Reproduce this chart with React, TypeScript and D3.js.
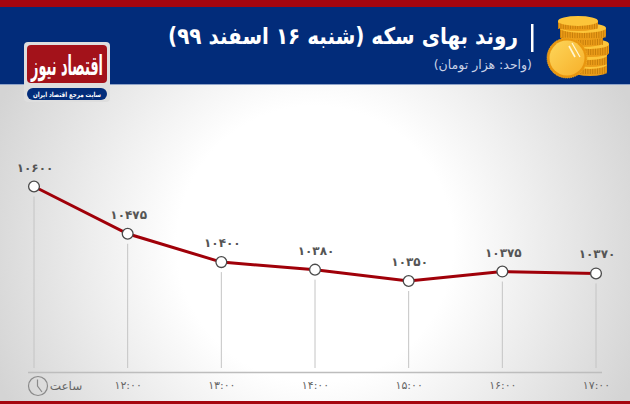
import React, { useEffect, useRef } from 'react';
import * as d3 from 'd3';

const WIDTH = 630;
const HEIGHT = 404;

// chart values
const hours = ['', '۱۲:۰۰', '۱۳:۰۰', '۱۴:۰۰', '۱۵:۰۰', '۱۶:۰۰', '۱۷:۰۰'];
const prices = [10600, 10475, 10400, 10380, 10350, 10375, 10370];

const titleText = 'روند بهای سکه (شنبه ۱۶ اسفند ۹۹)';
const unitText = '(واحد: هزار تومان)';
const hourText = 'ساعت';
const logoText = 'اقتصاد نیوز';
const logoSub = 'سایت مرجع اقتصاد ایران';

const toPersian = (n: number) => String(n).replace(/\d/g, d => '۰۱۲۳۴۵۶۷۸۹'[Number(d)]);

const FONT = '"DejaVu Sans", "Noto Sans", sans-serif';

const App: React.FC = () => {
  const svgRef = useRef<SVGSVGElement>(null);

  useEffect(() => {
    const svg = d3.select(svgRef.current);
    svg.select('.chart').remove();
    const g = svg.append('g').attr('class', 'chart');

    const x = d3.scalePoint<string>()
      .domain(hours.map((_, i) => String(i)))
      .range([34, 596]);
    const y = d3.scaleLinear().domain([10350, 10600]).range([281, 186.5]);
    const baseY = 368;

    // Drop lines, starting just under each point
    g.selectAll('.drop')
      .data(prices)
      .enter()
      .append('line')
      .attr('class', 'drop')
      .attr('x1', (_, i) => x(String(i)) as number)
      .attr('x2', (_, i) => x(String(i)) as number)
      .attr('y1', d => y(d) + 10)
      .attr('y2', baseY)
      .attr('stroke', '#c4c4c4')
      .attr('stroke-width', 1);

    // X axis
    const axis = d3.axisBottom(x)
      .tickSize(0)
      .tickPadding(9)
      .tickFormat(d => hours[Number(d)]);
    const axisG = g.append('g')
      .attr('transform', `translate(0, ${372})`)
      .call(axis);
    axisG.select('.domain')
      .attr('d', 'M28,0.5H602')
      .attr('stroke', '#bdbdbd')
      .attr('stroke-width', 1.6);
    axisG.selectAll('text')
      .style('font-family', FONT)
      .style('font-size', '11px')
      .style('fill', '#666');

    // Line
    const line = d3.line<number>()
      .x((_, i) => x(String(i)) as number)
      .y(d => y(d));
    g.append('path')
      .datum(prices)
      .attr('fill', 'none')
      .attr('stroke', '#a00009')
      .attr('stroke-width', 3)
      .attr('d', line);

    // Points
    g.selectAll('.dot')
      .data(prices)
      .enter()
      .append('circle')
      .attr('class', 'dot')
      .attr('cx', (_, i) => x(String(i)) as number)
      .attr('cy', d => y(d))
      .attr('r', 5.4)
      .attr('fill', '#fff')
      .attr('stroke', '#4a4a4a')
      .attr('stroke-width', 1.3);

    // Value labels
    g.selectAll('.val')
      .data(prices)
      .enter()
      .append('text')
      .attr('class', 'val')
      .attr('x', (_, i) => (x(String(i)) as number) + 1)
      .attr('y', d => y(d) - 15)
      .attr('text-anchor', 'middle')
      .style('font-family', FONT)
      .style('font-size', '12px')
      .style('font-weight', 700)
      .style('letter-spacing', '1.5px')
      .style('fill', '#555')
      .text(d => toPersian(d));
  }, []);

  // coin stack, bottom layer first
  const layers = [
    { cx: 590, cy: 64, rx: 17, h: 8 },
    { cx: 590, cy: 55, rx: 17, h: 8 },
    { cx: 590, cy: 44, rx: 19, h: 9 },
    { cx: 582, cy: 35, rx: 21, h: 8 },
    { cx: 583, cy: 28, rx: 23, h: 8 },
    { cx: 578, cy: 21, rx: 20, h: 6 },
  ];

  return (
    <svg
      ref={svgRef}
      width={WIDTH}
      height={HEIGHT}
      viewBox={`0 0 ${WIDTH} ${HEIGHT}`}
      style={{ position: 'absolute', left: 0, top: 0 }}
    >
      <defs>
        <radialGradient id="bg" cx={315} cy={244} r={345} gradientUnits="userSpaceOnUse">
          <stop offset="0%" stopColor="#ffffff" />
          <stop offset="40%" stopColor="#ffffff" />
          <stop offset="100%" stopColor="#d4d4d4" />
        </radialGradient>
        <linearGradient id="coin" x1="0" y1="0" x2="1" y2="1">
          <stop offset="0%" stopColor="#fdd65a" />
          <stop offset="100%" stopColor="#f7b02a" />
        </linearGradient>
      </defs>

      <rect x={0} y={84} width={WIDTH} height={HEIGHT - 84} fill="url(#bg)" />
      <rect x={0} y={0} width={WIDTH} height={7} fill="#a5060f" />
      <rect x={0} y={7} width={WIDTH} height={77} fill="#022c7a" />
      <rect x={0} y={84} width={WIDTH} height={1} fill="#8fa3c8" />
      <rect x={0} y={401} width={WIDTH} height={3} fill="#a5060f" />

      {/* Title */}
      <text
        x={518}
        y={44}
        direction="rtl"
        fill="#fff"
        textLength={350}
        lengthAdjust="spacingAndGlyphs"
        style={{ fontFamily: FONT, fontSize: 23, fontWeight: 700 }}
      >
        {titleText}
      </text>
      <rect x={531} y={24} width={2.5} height={28} fill="#fff" />
      <text
        x={532}
        y={69}
        direction="rtl"
        fill="#c9d2e6"
        style={{ fontFamily: FONT, fontSize: 12.5 }}
      >
        {unitText}
      </text>

      {/* Coins */}
      <g>
        {layers.map((c, i) => (
          <g key={i}>
            <rect x={c.cx - c.rx} y={c.cy} width={c.rx * 2} height={c.h} fill="#eb9c18" />
            <ellipse cx={c.cx} cy={c.cy + c.h} rx={c.rx} ry={4} fill="#eb9c18" />
            <line
              x1={c.cx - c.rx}
              x2={c.cx + c.rx}
              y1={c.cy + c.h / 2 + 2}
              y2={c.cy + c.h / 2 + 2}
              stroke="#c77f0c"
              strokeWidth={c.h}
              strokeDasharray="1 1.4"
            />
            <ellipse cx={c.cx} cy={c.cy} rx={c.rx} ry={5} fill="#fcc53a" />
          </g>
        ))}
        <circle cx={567} cy={58} r={20} fill="#e8960f" stroke="#f4ac25" strokeDasharray="1 1" />
        <circle cx={567} cy={58} r={17.5} fill="url(#coin)" />
        <line x1={569} y1={46} x2={575} y2={57} stroke="#fff6d5" strokeWidth={1.6} />
        <line x1={572} y1={43} x2={580} y2={57} stroke="#fff6d5" strokeWidth={1.2} />
      </g>

      {/* Logo */}
      <rect x={24} y={42} width={86} height={60} rx={4} fill="#dedede" />
      <rect x={27} y={45} width={80} height={38} rx={4} fill="#a3121a" />
      <text
        x={67}
        y={75}
        textAnchor="middle"
        fill="#fff"
        textLength={72}
        lengthAdjust="spacingAndGlyphs"
        style={{ fontFamily: FONT, fontSize: 27, fontWeight: 700 }}
      >
        {logoText}
      </text>
      <rect x={27} y={88} width={80} height={12} rx={6} fill="#022c7a" />
      <text
        x={67}
        y={96.5}
        textAnchor="middle"
        fill="#fff"
        textLength={68}
        lengthAdjust="spacingAndGlyphs"
        style={{ fontFamily: FONT, fontSize: 7, fontWeight: 700 }}
      >
        {logoSub}
      </text>

      {/* Clock and hour caption */}
      <circle cx={38} cy={386} r={9.5} fill="none" stroke="#8a8a8a" strokeWidth={1.2} />
      <path d="M37.5,379.5V386L42,392" fill="none" stroke="#8a8a8a" strokeWidth={1.2} />
      <text
        x={66}
        y={390}
        textAnchor="middle"
        fill="#666"
        style={{ fontFamily: FONT, fontSize: 12 }}
      >
        {hourText}
      </text>
    </svg>
  );
};

export default App;
